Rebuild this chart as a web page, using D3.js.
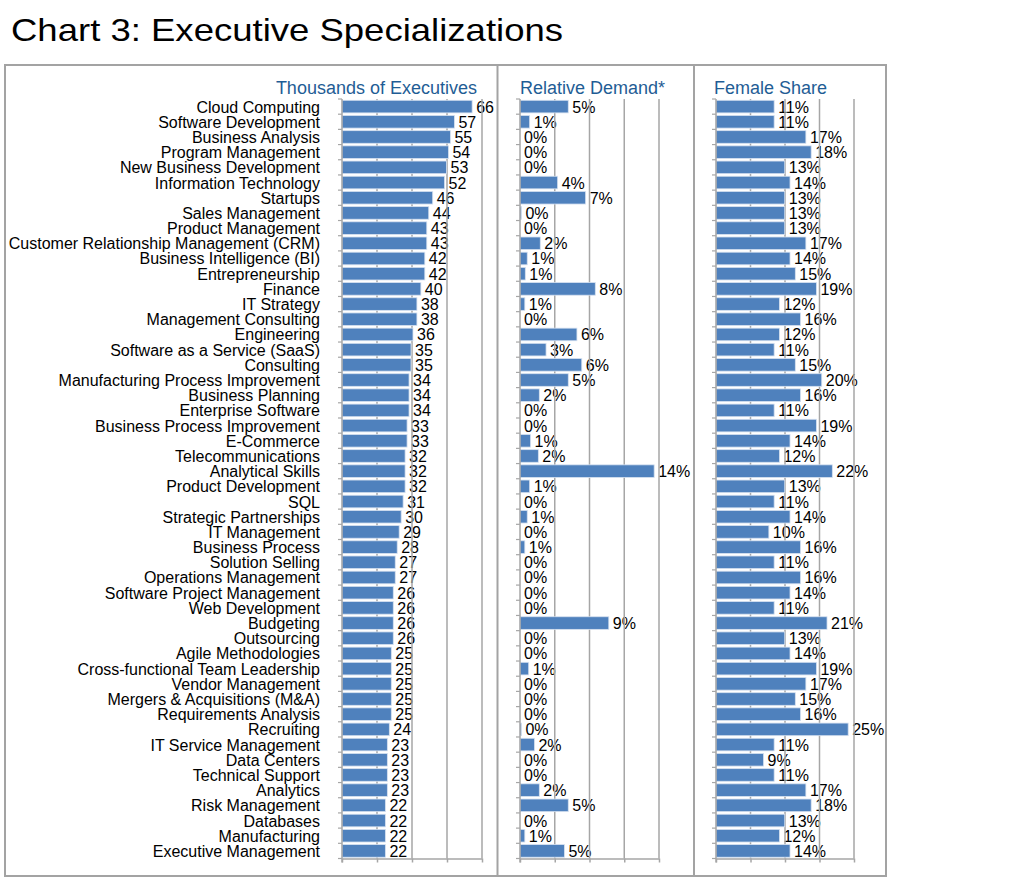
<!DOCTYPE html>
<html>
<head>
<meta charset="utf-8">
<script src="https://cdn.jsdelivr.net/npm/d3@7"></script>
<style>
  html, body { margin: 0; padding: 0; background: #fff; }
  svg { display: block; font-family: "Liberation Sans", Arial, Helvetica, sans-serif; }
</style>
</head>
<body>
<svg id="chart" width="1024" height="881"></svg>
<script>
// ---------------- data ----------------
const categories = [
  "Cloud Computing", "Software Development", "Business Analysis", "Program Management",
  "New Business Development", "Information Technology", "Startups", "Sales Management",
  "Product Management", "Customer Relationship Management (CRM)", "Business Intelligence (BI)",
  "Entrepreneurship", "Finance", "IT Strategy", "Management Consulting", "Engineering",
  "Software as a Service (SaaS)", "Consulting", "Manufacturing Process Improvement",
  "Business Planning", "Enterprise Software", "Business Process Improvement", "E-Commerce",
  "Telecommunications", "Analytical Skills", "Product Development", "SQL",
  "Strategic Partnerships", "IT Management", "Business Process", "Solution Selling",
  "Operations Management", "Software Project Management", "Web Development", "Budgeting",
  "Outsourcing", "Agile Methodologies", "Cross-functional Team Leadership",
  "Vendor Management", "Mergers & Acquisitions (M&A)", "Requirements Analysis", "Recruiting",
  "IT Service Management", "Data Centers", "Technical Support", "Analytics",
  "Risk Management", "Databases", "Manufacturing", "Executive Management"
];

// Thousands of executives
const executives = [
  66, 57, 55, 54, 53, 52, 46, 44, 43, 43, 42, 42, 40, 38, 38, 36, 35, 35, 34, 34,
  34, 33, 33, 32, 32, 32, 31, 30, 29, 28, 27, 27, 26, 26, 26, 26, 25, 25, 25, 25,
  25, 24, 23, 23, 23, 23, 22, 22, 22, 22
];

// Relative demand (%); labels are the rounded values
const relativeDemand = [
  5.0, 1.0, 0, 0, 0, 3.9, 6.8, 0.15, 0, 2.1, 0.75, 0.55, 7.8, 0.5, 0, 5.9, 2.7, 6.4, 5.0, 2.0,
  0, 0, 1.1, 1.9, 13.9, 1.0, 0, 0.75, 0, 0.5, 0, 0, 0, 0, 9.2, 0, 0, 0.9, 0, 0,
  0, 0.15, 1.5, 0, 0, 2.0, 5.0, 0, 0.5, 4.6
];

// Female share (%)
const femaleShare = [
  11, 11, 17, 18, 13, 14, 13, 13, 13, 17, 14, 15, 19, 12, 16, 12, 11, 15, 20, 16,
  11, 19, 14, 12, 22, 13, 11, 14, 10, 16, 11, 16, 14, 11, 21, 13, 14, 19, 17, 15,
  16, 25, 11, 9, 11, 17, 18, 13, 12, 14
];

const panelTitles = ["Thousands of Executives", "Relative Demand*", "Female Share"];
const chartTitle = "Chart 3: Executive Specializations";
const gridIntervals = 4;

// ---------------- layout ----------------
const svg = d3.select("#chart");
const plotTop = 99, plotBottom = 858.5;
const barColor = "#4F81BD";
const gridColor = "#a6a6a6";
const frameColor = "#a3a3a3";
const titleBlue = "#1F5D95";

const y = d3.scaleBand().domain(categories).range([plotTop, plotBottom]).paddingInner(0.17).paddingOuter(0.085);
const yOuter = d3.scaleBand().domain(categories).range([plotTop, plotBottom]);

// Title
svg.append("text")
  .attr("x", 11).attr("y", 41)
  .attr("font-size", 32)
  .attr("textLength", 552).attr("lengthAdjust", "spacingAndGlyphs")
  .attr("fill", "#000")
  .text(chartTitle);

// Frame
svg.append("rect")
  .attr("x", 5).attr("y", 65).attr("width", 881).attr("height", 811)
  .attr("fill", "none").attr("stroke", frameColor).attr("stroke-width", 2);
[497.5, 694].forEach(xx => {
  svg.append("line").attr("x1", xx).attr("x2", xx).attr("y1", 65).attr("y2", 876)
    .attr("stroke", frameColor).attr("stroke-width", 2);
});

const panels = [
  { values: executives, x0: 342, x1: 482, max: 71, fmt: d => d3.format("d")(d),
    title: panelTitles[0], titleX: 477, anchor: "end" },
  { values: relativeDemand, x0: 520, x1: 659, max: 14.4, fmt: d => Math.round(d) + "%",
    title: panelTitles[1], titleX: 520, anchor: "start" },
  { values: femaleShare, x0: 716, x1: 854, max: 26.1, fmt: d => Math.round(d) + "%",
    title: panelTitles[2], titleX: 714, anchor: "start" }
];

panels.forEach(p => {
  const x = d3.scaleLinear().domain([0, p.max]).range([p.x0, p.x1]);
  const g = svg.append("g");
  const data = categories.map((c, i) => ({ c, v: p.values[i] }));

  // panel title
  g.append("text")
    .attr("x", p.titleX).attr("y", 94)
    .attr("text-anchor", p.anchor)
    .attr("font-size", 18).attr("fill", titleBlue)
    .text(p.title);

  // value labels (drawn beneath gridlines)
  g.append("g").selectAll("text").data(data).join("text")
    .attr("x", d => x(d.v) + 4)
    .attr("y", d => y(d.c) + y.bandwidth() / 2 + 6)
    .attr("font-size", 16).attr("fill", "#000")
    .text(d => p.fmt(d.v));

  // gridlines
  const tickVals = d3.range(gridIntervals + 1).map(i => p.max * i / gridIntervals);
  g.append("g").selectAll("line").data(tickVals.slice(1)).join("line")
    .attr("x1", d => x(d)).attr("x2", d => x(d))
    .attr("y1", plotTop).attr("y2", plotBottom)
    .attr("stroke", gridColor).attr("stroke-width", 1.5);

  // bars
  g.append("g").selectAll("rect").data(data).join("rect")
    .attr("x", x(0))
    .attr("y", d => y(d.c))
    .attr("width", d => Math.max(0, x(d.v) - x(0)))
    .attr("height", y.bandwidth())
    .attr("fill", barColor)
    .attr("stroke", "#d6e1f0").attr("stroke-width", 0.8);

  // bottom axis
  const xAxis = d3.axisBottom(x).tickValues(tickVals).tickSize(4).tickSizeOuter(0).tickFormat("");
  const ax = g.append("g").attr("transform", `translate(0,${plotBottom})`).call(xAxis);
  ax.selectAll("path, line").attr("stroke", gridColor).attr("stroke-width", 1.5);

  // left axis line and category boundary ticks
  g.append("line").attr("x1", x(0)).attr("x2", x(0)).attr("y1", plotTop).attr("y2", plotBottom + 4)
    .attr("stroke", gridColor).attr("stroke-width", 1.5);
  const bounds = categories.map(c => yOuter(c)).concat([plotBottom]);
  g.append("g").selectAll("line").data(bounds).join("line")
    .attr("x1", x(0) - 4).attr("x2", x(0))
    .attr("y1", d => d).attr("y2", d => d)
    .attr("stroke", gridColor).attr("stroke-width", 1.2);
});

// category labels
svg.append("g").selectAll("text").data(categories).join("text")
  .attr("x", 320)
  .attr("y", d => y(d) + y.bandwidth() / 2 + 6)
  .attr("text-anchor", "end")
  .attr("font-size", 16).attr("fill", "#000")
  .text(d => d);
</script>
</body>
</html>
